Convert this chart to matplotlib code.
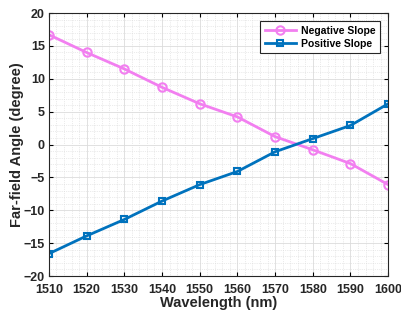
import matplotlib
matplotlib.use('Agg')
import matplotlib.pyplot as plt
from matplotlib.ticker import AutoMinorLocator

# Data
wavelength = [1510, 1520, 1530, 1540, 1550, 1560, 1570, 1580, 1590, 1600]
negative_slope = [16.7, 14.0, 11.5, 8.7, 6.2, 4.2, 1.2, -0.8, -2.9, -6.1]
positive_slope = [-16.6, -13.9, -11.4, -8.6, -6.1, -4.1, -1.1, 0.9, 2.9, 6.2]

x_ticks = [1510, 1520, 1530, 1540, 1550, 1560, 1570, 1580, 1590, 1600]
y_ticks = [-20, -15, -10, -5, 0, 5, 10, 15, 20]

plt.rcParams['font.family'] = ['Liberation Sans', 'DejaVu Sans']
plt.rcParams['font.weight'] = 'bold'

fig = plt.figure(figsize=(4.01, 3.18), dpi=100)
ax = fig.add_axes([0.122, 0.132, 0.846, 0.827])

pink = '#F27FF0'
blue = '#0072BD'

ax.plot(wavelength, negative_slope, color=pink, linewidth=2, marker='o',
        markersize=6, markerfacecolor='none', markeredgewidth=1.5,
        label='Negative Slope')
ax.plot(wavelength, positive_slope, color=blue, linewidth=2, marker='s',
        markersize=5, markerfacecolor='none', markeredgewidth=1.5,
        label='Positive Slope')

ax.set_xlim(1510, 1600)
ax.set_ylim(-20, 20)
ax.set_xticks(x_ticks)
ax.set_yticks(y_ticks)
ax.xaxis.set_minor_locator(AutoMinorLocator(5))
ax.yaxis.set_minor_locator(AutoMinorLocator(5))

ax.grid(True, which='major', color='#dcdcdc', linewidth=0.6)
ax.grid(True, which='minor', color='#d8d8d8', linestyle=':', linewidth=0.5)
ax.set_axisbelow(True)

ax.tick_params(axis='both', which='major', direction='in', length=3,
               labelsize=9, top=True, right=True, width=0.8)
ax.tick_params(axis='x', which='major', pad=6)
ax.tick_params(axis='y', which='major', pad=3)
ax.tick_params(axis='both', which='minor', length=0, top=True, right=True)
for lab in ax.get_xticklabels() + ax.get_yticklabels():
    lab.set_fontweight('bold')
    lab.set_color('#262626')
for s in ax.spines.values():
    s.set_color('#262626')
    s.set_linewidth(0.8)

ax.set_xlabel('Wavelength (nm)', fontsize=10.5, fontweight='bold', color='#262626')
ax.set_ylabel('Far-field Angle (degree)', fontsize=10.5, fontweight='bold', color='#262626')
ax.xaxis.set_label_coords(0.5, -0.076)
ax.yaxis.set_label_coords(-0.074, 0.5)

leg = ax.legend(loc='upper right', fontsize=7.5, fancybox=False, framealpha=1,
                edgecolor='#262626', handlelength=3.0, borderpad=0.4,
                labelspacing=0.3, handletextpad=0.5, borderaxespad=0.8)
leg.get_frame().set_linewidth(0.8)
for t in leg.get_texts():
    t.set_fontweight('bold')

fig.savefig('out.png', dpi=100)
